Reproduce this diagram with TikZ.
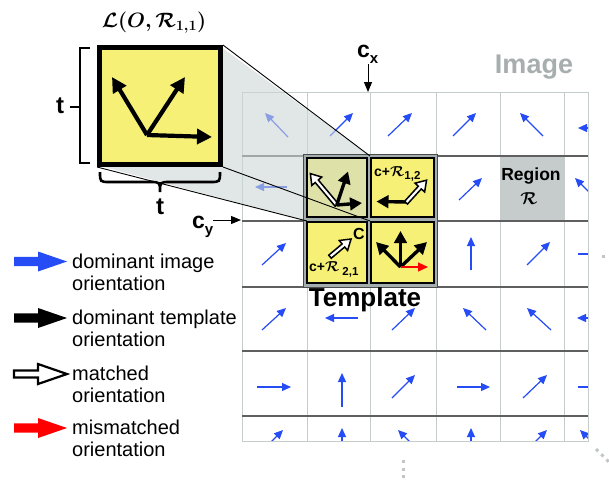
\documentclass[tikz,border=0pt]{standalone}
\usepackage[no-math]{fontspec}
\setmainfont{Liberation Sans}
\usepackage{bm}
\usetikzlibrary{arrows.meta}
\definecolor{yel}{RGB}{246,241,118}
\definecolor{yelshade}{RGB}{222,226,168}
\definecolor{imgblue}{RGB}{38,76,245}
\definecolor{gridlight}{RGB}{196,204,204}
\definecolor{griddark}{RGB}{95,95,95}
\definecolor{shadecol}{RGB}{205,214,216}
\definecolor{regiongray}{RGB}{198,204,204}
\definecolor{imagegray}{RGB}{168,174,174}
\definecolor{dotgray}{RGB}{192,198,198}
\definecolor{framegray}{RGB}{165,174,174}
\newcommand{\bR}{\ensuremath{\bm{\mathcal{R}}}}
\tikzset{
  imgarrow/.style={imgblue, line width=1.2pt, -{Triangle[length=9pt,width=8pt]}},
  tplarrow/.style={black, line width=3.4pt, -{Triangle[length=12pt,width=12.5pt]}},
  bigtplarrow/.style={black, line width=4.2pt, -{Triangle[length=15pt,width=15pt]}},
  redarrow/.style={red, line width=1.2pt, -{Triangle[length=10pt,width=9pt]}},
  legtext/.style={anchor=north west, align=left, inner sep=0pt, font=\fontsize{20}{22}\selectfont},
  tplcell/.style={draw=black, line width=1.8pt, inner sep=0pt},
  pics/hollowarr/.style={code={\path[pic actions] (0,-2) -- (#1-10,-2) -- (#1-10,-6.5) -- (#1,0) -- (#1-10,6.5) -- (#1-10,2) -- (0,2) -- cycle;}},
  pics/legarr/.style={code={\path[pic actions] (0,-#1) -- (24,-#1) -- (24,-10) -- (53,0) -- (24,10) -- (24,#1) -- (0,#1) -- cycle;}},
}
\begin{document}
\begin{tikzpicture}[x=1pt,y=-1pt]
\useasboundingbox (0,0) rectangle (609,480);
\fill[white] (0,0) rectangle (609,480);

% ---------- image grid ----------
\fill[regiongray] (500.5,156.5) rectangle (564,221);
\begin{scope}
\clip (242,92) rectangle (588,441);
% row 1
\draw[imgarrow] (288,137) -- (265,113);
\draw[imgarrow] (330,136) -- (353,113);
\draw[imgarrow] (388,136) -- (412,113);
\draw[imgarrow] (453,136) -- (476,113);
\draw[imgarrow] (543,136) -- (520,113);
\draw[imgarrow] (611,128) -- (578,128);
% row 2
\draw[imgarrow] (287,187) -- (255,187);
\draw[imgarrow] (459,200) -- (482,178);
\draw[imgarrow] (598,201) -- (575,178);
% row 3
\draw[imgarrow] (262,265) -- (286,243);
\draw[imgarrow] (471,270) -- (471,237);
\draw[imgarrow] (527,265) -- (550,242);
\draw[imgarrow] (578,254) -- (611,254);
% row 4
\draw[imgarrow] (262,330) -- (286,308);
\draw[imgarrow] (358,318) -- (325,318);
\draw[imgarrow] (392,330) -- (415,308);
\draw[imgarrow] (486,330) -- (463,308);
\draw[imgarrow] (551,330) -- (527,308);
\draw[imgarrow] (610,318) -- (577,318);
% row 5
\draw[imgarrow] (257,387) -- (291,387);
\draw[imgarrow] (342,407) -- (342,373);
\draw[imgarrow] (392,398) -- (415,375);
\draw[imgarrow] (457,387) -- (490,387);
\draw[imgarrow] (523,398) -- (547,375);
\draw[imgarrow] (578,387) -- (611,387);
% row 6
\draw[imgarrow] (260,453) -- (283,430);
\draw[imgarrow] (342,462) -- (342,428);
\draw[imgarrow] (421,453) -- (398,430);
\draw[imgarrow] (471,462) -- (471,428);
\draw[imgarrow] (524,453) -- (547,430);
\draw[imgarrow] (603,453) -- (580,430);
\end{scope}
\foreach \x in {307,370,436,500,564} \draw[gridlight, line width=1pt] (\x,92) -- (\x,441);
\draw[gridlight, line width=1pt] (242,92) rectangle (588,441);
\foreach \y in {156,221,287,351,416} \draw[griddark, line width=1.3pt] (242,\y) -- (588,\y);

\node[inner sep=0pt] (regtxt) at (531,176) {\fontsize{17.5}{18}\selectfont\bfseries Region};
\node[inner sep=0pt] (regR) at (529,199) {\fontsize{16}{16}\selectfont\bR};
\node[inner sep=0pt, text=imagegray] (imglbl) at (534,67) {\fontsize{27}{27}\selectfont\bfseries Image};

% ---------- zoom shading ----------
\fill[shadecol, opacity=0.6] (97,47) -- (221,47) -- (370,156) -- (370,221) -- (307,221) -- (97,165) -- cycle;

% ---------- big box ----------
\node[draw=black, line width=5pt, fill=yel, minimum width=121pt, minimum height=117pt, inner sep=0pt] (bigbox) at (160,106) {};
\coordinate (bo) at (147,135);
\draw[bigtplarrow] (bo) -- (112,77);
\draw[bigtplarrow] (bo) -- (185,77);
\draw[bigtplarrow] (bo) -- (212,137);
\node[inner sep=0pt] (Llbl) at (154,23) {\fontsize{22}{22}\selectfont$\bm{\mathcal{L}(O,\mathcal{R}_{1,1})}$};

% t brackets
\draw[line width=2.6pt] (90,48) -- (80,48) -- (80,163) -- (90,163);
\draw[line width=2.6pt] (70,107) -- (80,107);
\node[inner sep=0pt] (tleft) at (60,106) {\fontsize{24}{24}\selectfont\bfseries t};
\draw[line width=2.6pt] (100,172) .. controls (100,182) .. (110,182) -- (150,182) .. controls (160,182) .. (160,192) .. controls (160,182) .. (170,182) -- (210,182) .. controls (220,182) .. (220,172);
\node[inner sep=0pt] (tbot) at (160,207) {\fontsize{24}{24}\selectfont\bfseries t};

% ---------- template ----------
\fill[framegray] (303,154) rectangle (437,287);
\draw[black!70, line width=0.8pt] (303,154) rectangle (437,287);
\node[tplcell, fill=yelshade, minimum width=60pt, minimum height=59pt] (tTL) at (337,187.5) {};
\node[tplcell, fill=yel, minimum width=63pt, minimum height=59pt] (tTR) at (402.5,187.5) {};
\node[tplcell, fill=yel, minimum width=60pt, minimum height=61pt] (tBL) at (337,252.5) {};
\node[tplcell, fill=yel, minimum width=63pt, minimum height=61pt] (tBR) at (402.5,252.5) {};

% TL cell
\pic[draw=black, fill=white, line width=1.5pt, rotate=130] at (336.7,205) {hollowarr=41};
\draw[tplarrow] (336.7,205) -- (348,171.5);
\draw[tplarrow] (336.7,205) -- (362,203);
% TR cell
\draw[tplarrow] (407,202) -- (376.5,201.5);
\pic[draw=black, fill=white, line width=1.5pt, rotate=47.6] at (406,202.7) {hollowarr=30.5};
\node[anchor=base west, inner sep=0pt] (tTRlbl) at (374,176) {\fontsize{14}{14}\selectfont\bfseries c+\bR\raisebox{-3pt}{\fontsize{11.5}{11.5}\selectfont 1,2}};
% BL cell
\pic[draw=black, fill=white, line width=1.5pt, rotate=40] at (330,256.7) {hollowarr=27.5};
\node[inner sep=0pt] (tBLc) at (359,233.5) {\fontsize{16}{16}\selectfont\bfseries C};
\node[anchor=base west, inner sep=0pt] (tBLlbl) at (309,271.5) {\fontsize{14}{14}\selectfont\bfseries c+\bR\hspace{3pt}\raisebox{-4pt}{\fontsize{11.5}{11.5}\selectfont 2,1}};
% BR cell
\coordinate (bro) at (400.5,267);
\draw[tplarrow] (bro) -- (400.5,231);
\draw[tplarrow] (bro) -- (376,242);
\draw[tplarrow] (bro) -- (427,242);
\draw[redarrow] (bro) -- (428,267);

\node[inner sep=0pt] (tpllbl) at (365,300) {\fontsize{26}{26}\selectfont\bfseries Template};

% zoom edges
\coordinate (zTR) at (370,156);
\coordinate (zBR) at (370,221);
\coordinate (zBL) at (307,221);
\draw[line width=0.9pt] (bigbox.north east) -- (zTR);
\draw[line width=0.9pt] (bigbox.south east) -- (zBR);
\draw[line width=0.9pt] (bigbox.south west) -- (zBL);

% ---------- c_x, c_y ----------
\node[anchor=base west, inner sep=0pt] (cx) at (357,57) {\fontsize{23}{23}\selectfont\bfseries c\raisebox{-6pt}{\fontsize{15}{15}\selectfont x}};
\coordinate (cxs) at (368,64);
\coordinate (cxe) at (368,92);
\draw[line width=1pt, -{Triangle[length=10pt,width=8pt]}] (cxs) -- (cxe);
\node[anchor=base west, inner sep=0pt] (cy) at (192,228) {\fontsize{23}{23}\selectfont\bfseries c\raisebox{-6pt}{\fontsize{15}{15}\selectfont y}};
\coordinate (cys) at (213,220);
\coordinate (cye) at (241,220);
\draw[line width=1pt, -{Triangle[length=10pt,width=8pt]}] (cys) -- (cye);

% ---------- legend ----------
\pic[fill=imgblue] at (14,261.5) {legarr=4.7};
\node[legtext] (leg1) at (72,254) {dominant image\\orientation};
\pic[fill=black] at (14,318) {legarr=4.7};
\node[legtext] (leg2) at (72,310) {dominant template\\orientation};
\pic[draw=black, fill=white, line width=2.2pt] at (14,374) {legarr=3.5};
\node[legtext] (leg3) at (72,366) {matched\\orientation};
\pic[fill=red] at (14,428) {legarr=4.7};
\node[legtext] (leg4) at (72,420) {mismatched\\orientation};

% ---------- dotted continuation ----------
\draw[dotgray, line width=3pt, dash pattern=on 3pt off 4.5pt] (403,460) -- (403,482);
\draw[dotgray, line width=3pt, dash pattern=on 3pt off 4.5pt] (596,449) -- (614,467);
\fill[dotgray] (601.5,254.5) rectangle (605,258);
\end{tikzpicture}
\end{document}
